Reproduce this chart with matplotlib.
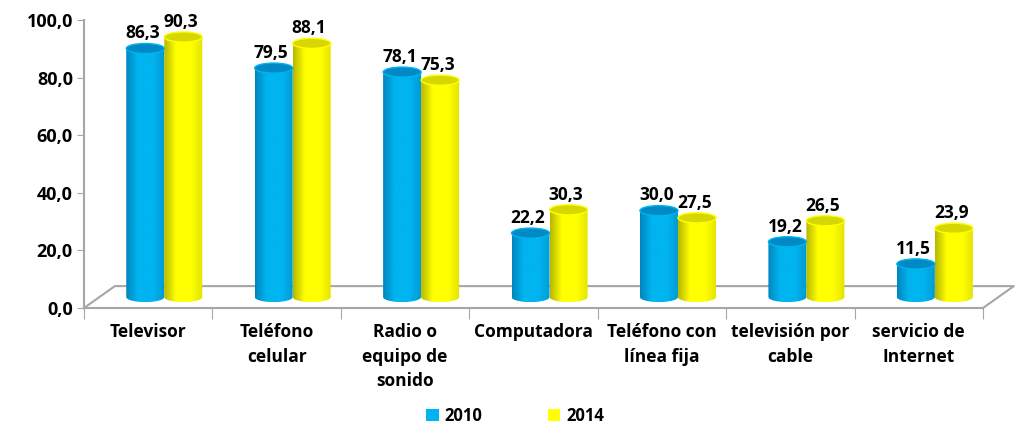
import numpy as np
import matplotlib
matplotlib.use('Agg')
from matplotlib import pyplot as plt
from matplotlib.path import Path
from matplotlib.patches import PathPatch, Ellipse, Patch
from matplotlib.colors import LinearSegmentedColormap

categories = ['Televisor', 'Teléfono\ncelular', 'Radio o\nequipo de\nsonido', 'Computadora',
              'Teléfono con\nlínea fija', 'televisión por\ncable', 'servicio de\nInternet']
years = ['2010', '2014']
values_2010 = [86.3, 79.5, 78.1, 22.2, 30.0, 19.2, 11.5]
values_2014 = [90.3, 88.1, 75.3, 30.3, 27.5, 26.5, 23.9]
y_ticks = [0, 20, 40, 60, 80, 100]

plt.rcParams['font.family'] = ['Open Sans', 'DejaVu Sans']
plt.rcParams['font.weight'] = 'bold'

# colours: (left edge, body, right edge, top cap)
blue = ('#0086BD', '#00B4F0', '#0099D0', '#0089C4')
yellow = ('#B8B800', '#FFFF00', '#E3E300', '#D6D600')

bar_w = 0.296      # width of one cylinder, category units
dx = 0.125         # depth shift of the bars (x)
dy = 3.8           # depth shift of the bars (y, data units)
cap = 1.75         # half height of the ellipse caps (data units)
floor_dx, floor_dy = 0.24, 7.6

fig = plt.figure(figsize=(10.2, 4.25), dpi=100)
ax = fig.add_axes([84/1020, 1 - 308/425, (983-84)/1020, 288/425])


def cylinder(ax, x0, x1, val, cols):
    base = dy
    top = val + dy
    cx = (x0 + x1) / 2
    a = (x1 - x0) / 2
    t = np.linspace(np.pi, 2*np.pi, 40)
    verts = [(x0, top), (x0, base)]
    verts += list(zip(cx + a*np.cos(t), base + cap*np.sin(t)))
    verts += [(x1, top), (x0, top)]
    codes = [Path.MOVETO] + [Path.LINETO]*(len(verts) - 2) + [Path.CLOSEPOLY]
    body = PathPatch(Path(verts, codes), facecolor='none', edgecolor='none')
    ax.add_patch(body)
    cmap = LinearSegmentedColormap.from_list('c', [(0, cols[0]), (0.3, cols[1]),
                                                   (0.7, cols[1]), (1, cols[2])])
    im = ax.imshow(np.linspace(0, 1, 64)[None, :], cmap=cmap, aspect='auto',
                   extent=(x0, x1, base - cap, top), origin='lower', zorder=2)
    im.set_clip_path(body)
    ax.add_patch(Ellipse((cx, top), 2*a, 2*cap, facecolor=cols[3],
                         edgecolor=cols[1], lw=1.0, zorder=3))
    ax.text(cx - 0.02, top + cap + 0.4, f'{val:.1f}'.replace('.', ','), ha='center', va='bottom',
            fontsize=12.5, fontweight='bold', zorder=4)


for i in range(len(categories)):
    c = i + 0.5 + dx
    cylinder(ax, c - bar_w, c, values_2010[i], blue)
    cylinder(ax, c, c + bar_w, values_2014[i], yellow)

# floor of the 3D box
n = len(categories)
grey = '#A6A6A6'
ax.plot([0, floor_dx, n + floor_dx, n], [0, floor_dy, floor_dy, 0],
        color=grey, lw=1.5, clip_on=False, zorder=1)

ax.set_xlim(0, n)
ax.set_ylim(0, 100)
for s in ['top', 'right']:
    ax.spines[s].set_visible(False)
for s in ['left', 'bottom']:
    ax.spines[s].set_color(grey)
    ax.spines[s].set_linewidth(1.5)

ax.set_yticks(y_ticks)
ax.set_yticklabels([f'{v:.1f}'.replace('.', ',') for v in y_ticks])
ax.tick_params(axis='y', length=5, color=grey, labelsize=13, pad=3)

ax.set_xticks(range(n + 1))
ax.set_xticklabels([])
ax.tick_params(axis='x', which='major', length=8, color=grey)
ax.set_xticks([i + 0.5 for i in range(n)], minor=True)
ax.set_xticklabels(categories, minor=True, fontsize=12.5, fontweight='bold', linespacing=1.45)
ax.tick_params(axis='x', which='minor', length=0, pad=11)

handles = [Patch(facecolor=blue[1], label=years[0]), Patch(facecolor=yellow[1], label=years[1])]
fig.legend(handles=handles, loc='lower center', bbox_to_anchor=(0.505, -0.035), ncol=2,
           frameon=False, handlelength=0.75, handleheight=0.75, handletextpad=0.35,
           columnspacing=3.9, prop={'size': 12, 'weight': 'bold'})

fig.savefig('out.png', dpi=100)
